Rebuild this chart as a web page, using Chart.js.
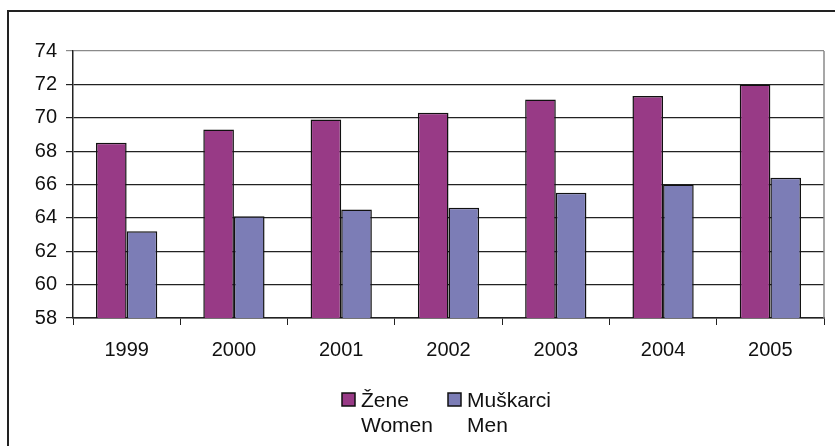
<!DOCTYPE html>
<html>
<head>
<meta charset="utf-8">
<script src="https://cdn.jsdelivr.net/npm/chart.js@4/dist/chart.umd.min.js"></script>
<style>
  html, body { margin: 0; padding: 0; background: #fff; }
  #wrap { position: relative; width: 835px; height: 446px; overflow: hidden; }
  #frame { position: absolute; left: 7px; top: 10px; width: 900px; height: 500px;
           border-left: 2px solid #222; border-top: 2px solid #222; pointer-events: none; }
  canvas { position: absolute; left: 0; top: 0; }
</style>
</head>
<body>
<div id="wrap">
  <canvas id="chart" width="835" height="446"></canvas>
  <div id="frame"></div>
</div>
<script>
const years = ["1999", "2000", "2001", "2002", "2003", "2004", "2005"];
const women = [68.5, 69.3, 69.9, 70.3, 71.1, 71.3, 72.0];
const men = [63.2, 64.1, 64.5, 64.6, 65.5, 66.0, 66.4];
const womenLabel = ["Žene", "Women"];
const menLabel = ["Muškarci", "Men"];

const fontFamily = "Arial, 'Liberation Sans', sans-serif";
const font = { family: fontFamily, size: 20 };

// gray right edge of the plot area
const plotEdge = {
  id: 'plotEdge',
  afterDraw(chart) {
    const a = chart.chartArea, ctx = chart.ctx;
    ctx.save();
    ctx.strokeStyle = '#8a8a8a';
    ctx.lineWidth = 1.5;
    ctx.beginPath();
    ctx.moveTo(a.right, a.top);
    ctx.lineTo(a.right, a.bottom);
    ctx.stroke();
    ctx.restore();
  }
};

// two-line legend under the axis (Excel style)
const twoLineLegend = {
  id: 'twoLineLegend',
  afterDraw(chart, args, opts) {
    const ctx = chart.ctx;
    ctx.save();
    ctx.font = opts.size + 'px ' + fontFamily;
    ctx.textBaseline = 'alphabetic';
    ctx.textAlign = 'left';
    chart.data.datasets.forEach((ds, i) => {
      const x = opts.xs[i], y = opts.top;
      ctx.fillStyle = ds.backgroundColor;
      ctx.fillRect(x, y, opts.box, opts.box);
      ctx.strokeStyle = '#111';
      ctx.lineWidth = 1.5;
      ctx.strokeRect(x, y, opts.box, opts.box);
      ctx.fillStyle = '#111';
      ds.label.forEach((line, j) => {
        ctx.fillText(line, x + opts.box + 6, y + opts.box + 1 + j * opts.lineHeight);
      });
    });
    ctx.restore();
  }
};

new Chart(document.getElementById('chart'), {
  type: 'bar',
  plugins: [plotEdge, twoLineLegend],
  data: {
    labels: years,
    datasets: [
      { label: womenLabel, data: women, backgroundColor: '#983A86', borderColor: '#111', borderWidth: 1.5 },
      { label: menLabel, data: men, backgroundColor: '#7C7DB6', borderColor: '#111', borderWidth: 1.5 }
    ]
  },
  options: {
    responsive: false,
    animation: false,
    layout: { padding: { left: 0, top: 51, right: 11, bottom: 88 } },
    datasets: { bar: { categoryPercentage: 0.571, barPercentage: 1.0 } },
    scales: {
      x: {
        grid: { display: true, drawOnChartArea: false, color: '#222', tickLength: 7, offset: true },
        border: { color: '#222', width: 1.5 },
        ticks: { color: '#111', font: font, padding: 13 },
        afterFit(s) { s.height = 40; }
      },
      y: {
        min: 58, max: 74,
        grid: { color: (c) => c.tick && c.tick.value === 74 ? '#8a8a8a' : '#222', lineWidth: 1.2, tickLength: 7 },
        border: { color: '#222', width: 1.5 },
        ticks: { stepSize: 2, color: '#111', font: font, padding: 9 },
        afterFit(s) { s.width = 73; }
      }
    },
    plugins: {
      legend: { display: false },
      tooltip: { enabled: false },
      twoLineLegend: { xs: [342, 448], top: 393, box: 13, size: 21, lineHeight: 25 }
    }
  }
});
</script>
</body>
</html>
